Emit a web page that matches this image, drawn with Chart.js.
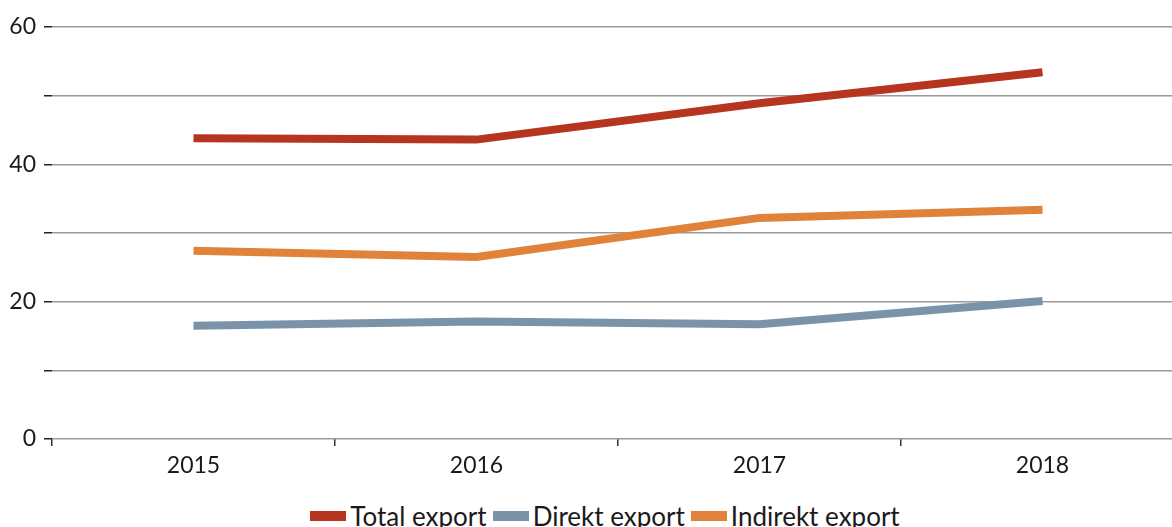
<!DOCTYPE html>
<html>
<head>
<meta charset="utf-8">
<script src="https://cdn.jsdelivr.net/npm/chart.js@4.4.0/dist/chart.umd.min.js"></script>
<style>
  html, body { margin: 0; padding: 0; background: #fff; overflow: hidden; width: 1172px; height: 527px; }
  #wrap { position: absolute; left: 0; top: 0; width: 1184px; height: 500px; }
  #legend { position: absolute; left: 0; top: 501px; width: 1210px; display: flex; justify-content: center; align-items: center;
            font-family: Lato, "Open Sans", sans-serif; font-size: 26px; color: #1a1a1a; white-space: nowrap; line-height: 30px; }
  .item { display: flex; align-items: center; margin: 0 3px; }
  .box { width: 36px; height: 10px; margin-right: 4px; }
</style>
</head>
<body>
<div id="wrap"><canvas id="c"></canvas></div>
<div id="legend"></div>
<script>
const categories = ["2015", "2016", "2017", "2018"];
const totalExport = [43.8, 43.6, 48.9, 53.4];
const direktExport = [16.5, 17.1, 16.7, 20.1];
const indirektExport = [27.4, 26.5, 32.2, 33.4];
const seriesNames = ["Total export", "Direkt export", "Indirekt export"];
const seriesColors = ["#B5351F", "#7B93A8", "#E0823A"];
const yLabelValues = [0, 20, 40, 60];

const seriesData = [totalExport, direktExport, indirektExport];
const datasets = seriesNames.map((name, i) => ({
  label: name,
  data: seriesData[i],
  borderColor: seriesColors[i],
  backgroundColor: seriesColors[i],
  borderWidth: 8,
  pointRadius: 0,
  pointHoverRadius: 0,
  tension: 0,
  borderCapStyle: 'butt',
  fill: false
}));

const font = { family: 'Lato, "Open Sans", sans-serif' };

new Chart(document.getElementById('c'), {
  type: 'line',
  data: { labels: categories, datasets },
  options: {
    responsive: true,
    maintainAspectRatio: false,
    animation: false,
    layout: { padding: { top: 27, right: 0, bottom: 0, left: 0 } },
    plugins: { legend: { display: false }, tooltip: { enabled: false } },
    scales: {
      x: {
        offset: true,
        grid: { offset: true, drawOnChartArea: false, drawTicks: true, tickLength: 7, color: '#333', lineWidth: 1.5 },
        border: { display: false },
        ticks: { font: { ...font, size: 23 }, color: '#1a1a1a', padding: 6, maxRotation: 0 },
        afterFit: s => { s.height = 61; }
      },
      y: {
        min: 0, max: 60,
        grid: { color: '#9a9a9a', lineWidth: 1.5, tickLength: 8, tickColor: '#222', drawTicks: true },
        border: { display: false },
        ticks: {
          stepSize: 10,
          font: { ...font, size: 23 }, color: '#1a1a1a', padding: 8,
          callback: v => yLabelValues.includes(v) ? String(v) : ''
        },
        afterFit: s => { s.width = 52; }
      }
    }
  }
});

const lg = document.getElementById('legend');
seriesNames.forEach((n, i) => {
  const it = document.createElement('div'); it.className = 'item';
  const b = document.createElement('span'); b.className = 'box'; b.style.background = seriesColors[i];
  const t = document.createElement('span'); t.textContent = n;
  it.appendChild(b); it.appendChild(t); lg.appendChild(it);
});
</script>
</body>
</html>
